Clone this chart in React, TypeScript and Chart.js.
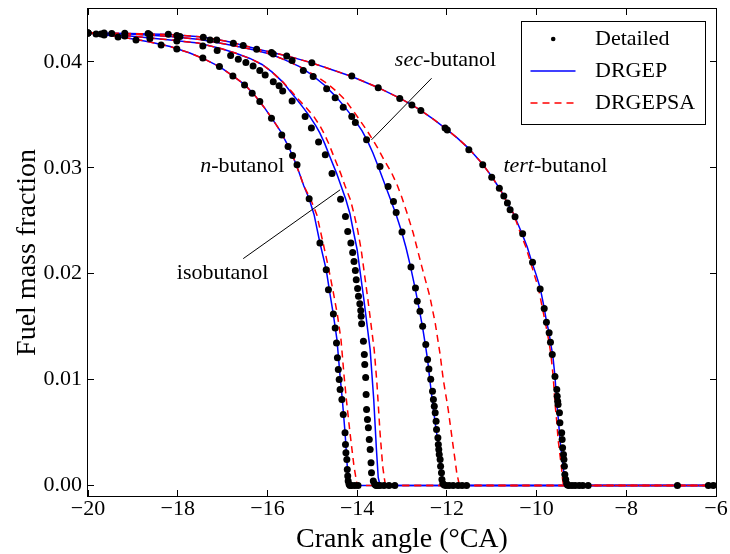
import React, { useEffect, useRef } from 'react';
import { Chart, registerables } from 'chart.js';

Chart.register(...registerables);

type Pt = [number, number];

const FONT = '"Liberation Serif", "Times New Roman", serif';

// ---- axes ----
const xTicks = [-20, -18, -16, -14, -12, -10, -8, -6];
const yTicks = [0, 0.01, 0.02, 0.03, 0.04];
const xLimits = [-20, -6];
const yLimits = [-0.001, 0.045];

// ---- n-butanol ----
const nButanolDetailed: Pt[] = [
  [-20.0, 0.04274], [-19.82, 0.04264], [-19.64, 0.04255], [-19.33, 0.04236], [-18.93, 0.04208],
  [-18.37, 0.0416], [-18.02, 0.04123], [-17.44, 0.04038], [-17.07, 0.03956], [-16.77, 0.03868],
  [-16.51, 0.03783], [-16.34, 0.03705], [-16.17, 0.03626], [-15.91, 0.03469], [-15.68, 0.03311],
  [-15.54, 0.03201], [-15.44, 0.03116], [-15.34, 0.03028], [-15.07, 0.02708], [-14.83, 0.0229],
  [-14.69, 0.02038], [-14.64, 0.01849], [-14.53, 0.0162], [-14.49, 0.01488], [-14.46, 0.01346],
  [-14.44, 0.01205], [-14.42, 0.01094], [-14.4, 0.01], [-14.38, 0.00906], [-14.34, 0.00811],
  [-14.31, 0.0067], [-14.27, 0.00497], [-14.26, 0.00387], [-14.25, 0.00308], [-14.23, 0.00245],
  [-14.22, 0.00151], [-14.21, 0.00088], [-14.2, 0.00041], [-14.18, 0.0001], [-14.16, 0],
  [-14.12, 0], [-14.05, 0], [-13.98, 0],
];
const nButanolDRGEP: Pt[] = [
  [-20.0, 0.04274], [-19.51, 0.0425], [-19.06, 0.04222], [-18.62, 0.04189], [-18.17, 0.04146],
  [-17.73, 0.04085], [-17.39, 0.04024], [-17.06, 0.03953], [-16.77, 0.03868], [-16.5, 0.03783],
  [-16.28, 0.03684], [-16.08, 0.03575], [-15.9, 0.03467], [-15.7, 0.0334], [-15.54, 0.03208],
  [-15.41, 0.03085], [-15.3, 0.02962], [-15.19, 0.0283], [-15.07, 0.02708], [-14.96, 0.02557],
  [-14.83, 0.02292], [-14.69, 0.02038], [-14.61, 0.01821], [-14.53, 0.01613], [-14.45, 0.01377],
  [-14.38, 0.01028], [-14.33, 0.00811], [-14.27, 0.005], [-14.22, 0.00179], [-14.17, 0.00028],
  [-14.13, 0], [-6, 0],
];
const nButanolDRGEPSA: Pt[] = [
  [-20.0, 0.04274], [-19.51, 0.0425], [-19.06, 0.04222], [-18.62, 0.04189], [-18.17, 0.04146],
  [-17.73, 0.04085], [-17.39, 0.04024], [-17.06, 0.03953], [-16.77, 0.03868], [-16.5, 0.03783],
  [-16.28, 0.03684], [-16.08, 0.03575], [-15.9, 0.03467], [-15.7, 0.0334], [-15.54, 0.03208],
  [-15.41, 0.03085], [-15.3, 0.02962], [-15.19, 0.0283], [-15.04, 0.02708], [-14.9, 0.02557],
  [-14.76, 0.02292], [-14.63, 0.02038], [-14.53, 0.01821], [-14.44, 0.01613], [-14.36, 0.01377],
  [-14.29, 0.01028], [-14.24, 0.00811], [-14.16, 0.005], [-14.07, 0.00179], [-14.01, 0.00028],
  [-13.98, 0], [-6, 0],
];

// ---- isobutanol ----
const isobutanolDetailed: Pt[] = [
  [-20.0, 0.04274], [-19.71, 0.04264], [-19.18, 0.04245], [-18.62, 0.04222], [-18.02, 0.04198],
  [-17.44, 0.04151], [-17.12, 0.04107], [-16.82, 0.04061], [-16.65, 0.04026], [-16.48, 0.03995],
  [-16.32, 0.03962], [-16.17, 0.0392], [-16.05, 0.03877], [-15.87, 0.03814], [-15.74, 0.03774],
  [-15.66, 0.03726], [-15.45, 0.03632], [-15.16, 0.03484], [-15.02, 0.03375], [-14.86, 0.03243],
  [-14.71, 0.03123], [-14.56, 0.02946], [-14.37, 0.02703], [-14.26, 0.02541], [-14.21, 0.02399],
  [-14.14, 0.0229], [-14.1, 0.02201], [-14.07, 0.02116], [-14.04, 0.02031], [-14.02, 0.01943],
  [-13.99, 0.01861], [-13.97, 0.01786], [-13.94, 0.01717], [-13.92, 0.01651], [-13.91, 0.01597],
  [-13.9, 0.01528], [-13.86, 0.01361], [-13.84, 0.01236], [-13.83, 0.01142], [-13.81, 0.01019],
  [-13.8, 0.00858], [-13.79, 0.00717], [-13.77, 0.00623], [-13.75, 0.00544], [-13.73, 0.00434],
  [-13.71, 0.0034], [-13.69, 0.00214], [-13.68, 0.0012], [-13.64, 0.00041], [-13.61, 0.00014],
  [-13.59, 0.00005], [-13.57, 0], [-13.54, 0], [-13.49, 0], [-13.4, 0], [-13.29, 0], [-13.16, 0],
];
const isobutanolDRGEP: Pt[] = [
  [-20.0, 0.04274], [-19.4, 0.04259], [-18.84, 0.04236], [-18.17, 0.04208], [-17.55, 0.04179],
  [-17.04, 0.04127], [-16.72, 0.04085], [-16.39, 0.04033], [-16.12, 0.03976], [-15.9, 0.03906],
  [-15.65, 0.03807], [-15.5, 0.03726], [-15.34, 0.03642], [-15.19, 0.03561], [-15.05, 0.03481],
  [-14.92, 0.03396], [-14.83, 0.03327], [-14.72, 0.03226], [-14.61, 0.03107], [-14.46, 0.0295],
  [-14.36, 0.0283], [-14.25, 0.02698], [-14.16, 0.02566], [-14.09, 0.02415], [-14.0, 0.02226],
  [-13.94, 0.02038], [-13.85, 0.01755], [-13.78, 0.01519], [-13.71, 0.01283], [-13.63, 0.00811],
  [-13.57, 0.0034], [-13.53, 0.00075], [-13.49, 0], [-6, 0],
];
const isobutanolDRGEPSA: Pt[] = [
  [-20.0, 0.04274], [-19.4, 0.04259], [-18.84, 0.04236], [-18.17, 0.04208], [-17.55, 0.04179],
  [-17.04, 0.04127], [-16.72, 0.04085], [-16.39, 0.04033], [-16.12, 0.03976], [-15.9, 0.03906],
  [-15.65, 0.03807], [-15.47, 0.03726], [-15.3, 0.03642], [-15.12, 0.03561], [-14.96, 0.03481],
  [-14.83, 0.03396], [-14.74, 0.03327], [-14.63, 0.03226], [-14.52, 0.03107], [-14.37, 0.0295],
  [-14.27, 0.0283], [-14.15, 0.02698], [-14.07, 0.02566], [-13.99, 0.02415], [-13.91, 0.02226],
  [-13.85, 0.02038], [-13.76, 0.01755], [-13.69, 0.01519], [-13.62, 0.01283], [-13.56, 0.00972],
  [-13.49, 0.005], [-13.43, 0.00179], [-13.38, 0.00028], [-13.36, 0], [-6, 0],
];

// ---- sec-butanol ----
const secButanolDetailed: Pt[] = [
  [-20.0, 0.04274], [-19.47, 0.04269], [-18.62, 0.04257], [-17.95, 0.04241], [-17.28, 0.04208],
  [-16.54, 0.04156], [-15.87, 0.04075], [-15.45, 0.04014], [-15.2, 0.0392], [-14.98, 0.03863],
  [-14.68, 0.03747], [-14.49, 0.03662], [-14.31, 0.03573], [-14.12, 0.03484], [-14.04, 0.03427],
  [-13.79, 0.03264], [-13.49, 0.03012], [-13.31, 0.02824], [-13.19, 0.02682], [-13.13, 0.02578],
  [-13.0, 0.02394], [-12.8, 0.02063], [-12.7, 0.01865], [-12.66, 0.01739], [-12.6, 0.01644],
  [-12.54, 0.01503], [-12.47, 0.0133], [-12.43, 0.01189], [-12.4, 0.01099], [-12.36, 0.01003],
  [-12.32, 0.0089], [-12.3, 0.00811], [-12.28, 0.00748], [-12.26, 0.00686], [-12.24, 0.00607],
  [-12.23, 0.00528], [-12.2, 0.0045], [-12.19, 0.00387], [-12.18, 0.0034], [-12.17, 0.00292],
  [-12.15, 0.00245], [-12.14, 0.00182], [-12.12, 0.0012], [-12.11, 0.00057], [-12.09, 0.00019],
  [-12.06, 0.00005], [-12.02, 0], [-11.95, 0], [-11.86, 0], [-11.75, 0], [-11.66, 0], [-11.56, 0],
];
const secButanolDRGEP: Pt[] = [
  [-20.0, 0.04274], [-19.06, 0.04264], [-18.17, 0.04241], [-17.5, 0.04212], [-16.83, 0.0416],
  [-16.39, 0.04123], [-15.94, 0.04075], [-15.61, 0.04019], [-15.27, 0.03953], [-15.01, 0.03877],
  [-14.72, 0.03778], [-14.47, 0.0367], [-14.27, 0.03571], [-14.07, 0.03462], [-13.89, 0.03349],
  [-13.76, 0.03245], [-13.65, 0.03142], [-13.53, 0.03012], [-13.42, 0.02887], [-13.27, 0.02717],
  [-13.13, 0.02557], [-13.01, 0.02399], [-12.91, 0.02245], [-12.82, 0.02085], [-12.71, 0.01868],
  [-12.61, 0.01651], [-12.54, 0.01491], [-12.48, 0.0133], [-12.43, 0.01189], [-12.38, 0.01],
  [-12.3, 0.00717], [-12.24, 0.00528], [-12.19, 0.00387], [-12.14, 0.00217], [-12.11, 0.00094],
  [-12.08, 0], [-6, 0],
];
const secButanolDRGEPSA: Pt[] = [
  [-20.0, 0.04274], [-19.06, 0.04264], [-18.17, 0.04241], [-17.5, 0.04212], [-16.83, 0.0416],
  [-16.39, 0.04123], [-15.94, 0.04075], [-15.61, 0.04019], [-15.27, 0.03953], [-14.94, 0.03873],
  [-14.67, 0.03797], [-14.47, 0.03726], [-14.27, 0.03642], [-14.05, 0.03516], [-13.79, 0.03358],
  [-13.56, 0.03201], [-13.4, 0.03075], [-13.23, 0.0295], [-13.11, 0.0284], [-13.01, 0.02729],
  [-12.89, 0.02575], [-12.75, 0.02384], [-12.56, 0.02069], [-12.38, 0.01786], [-12.26, 0.01535],
  [-12.15, 0.01236], [-12.08, 0.01], [-11.97, 0.00717], [-11.91, 0.00528], [-11.86, 0.00371],
  [-11.81, 0.00217], [-11.78, 0.0012], [-11.72, 0], [-6, 0],
];

// ---- tert-butanol ----
const tertButanolDetailed: Pt[] = [
  [-20.0, 0.04274], [-19.64, 0.04274], [-19.18, 0.04271], [-18.66, 0.04269], [-18.21, 0.04261],
  [-18.02, 0.0425], [-17.43, 0.04233], [-17.13, 0.04208], [-16.76, 0.04176], [-16.24, 0.0412],
  [-15.91, 0.04088], [-15.57, 0.04057], [-15.01, 0.03993], [-14.12, 0.03868], [-13.53, 0.03757],
  [-13.05, 0.03655], [-12.78, 0.03594], [-12.58, 0.03541], [-12.04, 0.03375], [-11.99, 0.03358],
  [-11.51, 0.0317], [-11.2, 0.03028], [-11.0, 0.0291], [-10.83, 0.02808], [-10.73, 0.02734],
  [-10.65, 0.02667], [-10.59, 0.02604], [-10.48, 0.02538], [-10.31, 0.02377], [-10.09, 0.02107],
  [-9.92, 0.01856], [-9.83, 0.0167], [-9.78, 0.01541], [-9.72, 0.01441], [-9.69, 0.01352],
  [-9.65, 0.01236], [-9.59, 0.01028], [-9.55, 0.00906], [-9.54, 0.00842], [-9.53, 0.00795],
  [-9.52, 0.00764], [-9.49, 0.00686], [-9.48, 0.00592], [-9.44, 0.00497], [-9.43, 0.00434],
  [-9.42, 0.00356], [-9.4, 0.00292], [-9.39, 0.00245], [-9.38, 0.00182], [-9.37, 0.00104],
  [-9.35, 0.00057], [-9.33, 0.00019], [-9.31, 0.00005], [-9.28, 0], [-9.21, 0], [-9.14, 0],
  [-9.05, 0], [-8.97, 0], [-8.85, 0], [-6.86, 0], [-6.17, 0], [-6.06, 0],
];
const tertButanolDRGEP: Pt[] = [
  [-20.0, 0.04274], [-19.06, 0.04269], [-18.17, 0.04258], [-17.44, 0.04236], [-16.83, 0.04189],
  [-16.23, 0.04123], [-15.9, 0.0409], [-15.56, 0.04057], [-15.01, 0.03991], [-14.61, 0.03934],
  [-14.12, 0.03863], [-13.54, 0.03759], [-13.05, 0.03658], [-12.78, 0.03594], [-12.6, 0.03547],
  [-12.31, 0.03462], [-12.04, 0.03375], [-11.77, 0.03283], [-11.52, 0.03186], [-11.22, 0.03044],
  [-11.0, 0.02918], [-10.88, 0.0284], [-10.74, 0.02745], [-10.66, 0.0267], [-10.52, 0.02573],
  [-10.33, 0.02384], [-10.21, 0.02255], [-10.11, 0.02116], [-10.01, 0.01991], [-9.92, 0.01865],
  [-9.83, 0.01676], [-9.78, 0.0155], [-9.72, 0.01441], [-9.69, 0.01346], [-9.64, 0.01236],
  [-9.59, 0.01031], [-9.55, 0.0078], [-9.51, 0.00604], [-9.48, 0.00434], [-9.44, 0.00292],
  [-9.4, 0.00151], [-9.38, 0.00057], [-9.37, 0], [-6, 0],
];
const tertButanolDRGEPSA: Pt[] = [
  [-20.0, 0.04274], [-19.06, 0.04269], [-18.17, 0.04258], [-17.44, 0.04236], [-16.83, 0.04189],
  [-16.23, 0.04123], [-15.9, 0.0409], [-15.56, 0.04057], [-15.01, 0.03991], [-14.61, 0.03934],
  [-14.12, 0.03863], [-13.54, 0.03759], [-13.05, 0.03658], [-12.78, 0.03594], [-12.6, 0.03547],
  [-12.31, 0.03462], [-12.04, 0.03375], [-11.77, 0.03283], [-11.52, 0.03186], [-11.22, 0.03044],
  [-11.0, 0.02918], [-10.88, 0.0284], [-10.74, 0.02745], [-10.66, 0.0267], [-10.52, 0.02573],
  [-10.36, 0.02384], [-10.24, 0.02255], [-10.14, 0.02116], [-10.05, 0.01991], [-9.96, 0.01865],
  [-9.87, 0.01676], [-9.81, 0.0155], [-9.76, 0.01441], [-9.72, 0.01346], [-9.68, 0.01236],
  [-9.63, 0.01031], [-9.59, 0.0078], [-9.55, 0.00604], [-9.52, 0.00434], [-9.48, 0.00292],
  [-9.44, 0.00151], [-9.42, 0.00057], [-9.4, 0], [-6, 0],
];

// ---- series & labels ----
const seriesNames = ['Detailed', 'DRGEP', 'DRGEPSA'];
const fuels = [
  { name: 'n-butanol', detailed: nButanolDetailed, drgep: nButanolDRGEP, drgepsa: nButanolDRGEPSA },
  { name: 'isobutanol', detailed: isobutanolDetailed, drgep: isobutanolDRGEP, drgepsa: isobutanolDRGEPSA },
  { name: 'sec-butanol', detailed: secButanolDetailed, drgep: secButanolDRGEP, drgepsa: secButanolDRGEPSA },
  { name: 'tert-butanol', detailed: tertButanolDetailed, drgep: tertButanolDRGEP, drgepsa: tertButanolDRGEPSA },
];

// label text runs: [text, italic]
const labelRuns: [string, boolean][][] = [
  [['n', true], ['-butanol', false]],
  [['isobutanol', false]],
  [['sec', true], ['-butanol', false]],
  [['tert', true], ['-butanol', false]],
];
// anchor (left, baseline) in data coordinates
const labelAnchors: Pt[] = [
  [-17.5, 0.02962],
  [-18.02, 0.01953],
  [-13.16, 0.03958],
  [-10.74, 0.02958],
];
// leader lines in data coordinates
const leaderLines: [Pt, Pt][] = [
  [[-16.54, 0.02142], [-14.38, 0.02792]],
  [[-12.34, 0.03846], [-13.68, 0.03264]],
];

const fmtX = (v: number) => (v < 0 ? '\u2212' + String(Math.abs(v)) : String(v));

const overlayPlugin = {
  id: 'overlay',
  afterDatasetsDraw(chart: any) {
    const { ctx, chartArea: ca, scales } = chart;
    const xs = scales.x;
    const ys = scales.y;
    ctx.save();
    // leader lines
    ctx.strokeStyle = '#000';
    ctx.lineWidth = 1;
    leaderLines.forEach(([a, b]) => {
      ctx.beginPath();
      ctx.moveTo(xs.getPixelForValue(a[0]), ys.getPixelForValue(a[1]));
      ctx.lineTo(xs.getPixelForValue(b[0]), ys.getPixelForValue(b[1]));
      ctx.stroke();
    });
    // fuel labels
    ctx.fillStyle = '#000';
    ctx.textAlign = 'left';
    ctx.textBaseline = 'alphabetic';
    labelRuns.forEach((runs, i) => {
      let x = xs.getPixelForValue(labelAnchors[i][0]);
      const y = ys.getPixelForValue(labelAnchors[i][1]);
      runs.forEach(([t, it]) => {
        ctx.font = `${it ? 'italic ' : ''}22px ${FONT}`;
        ctx.fillText(t, x, y);
        x += ctx.measureText(t).width;
      });
    });
    // frame
    ctx.strokeStyle = '#000';
    ctx.lineWidth = 1;
    ctx.strokeRect(ca.left - 0.5, ca.top - 0.5, ca.right - ca.left + 1, ca.bottom - ca.top + 1);
    // inward ticks on all four sides
    const tl = 6;
    ctx.beginPath();
    xTicks.forEach((v) => {
      const p = Math.floor(xs.getPixelForValue(v)) + 0.5;
      ctx.moveTo(p, ca.bottom);
      ctx.lineTo(p, ca.bottom - tl);
      ctx.moveTo(p, ca.top);
      ctx.lineTo(p, ca.top + tl);
    });
    yTicks.forEach((v) => {
      const p = Math.floor(ys.getPixelForValue(v)) + 0.5;
      ctx.moveTo(ca.left, p);
      ctx.lineTo(ca.left + tl, p);
      ctx.moveTo(ca.right, p);
      ctx.lineTo(ca.right - tl, p);
    });
    ctx.stroke();

    // legend
    const w = 184;
    const h = 103;
    const lx = Math.round(ca.right - 11 - w) + 0.5;
    const ly = Math.round(ca.top + 12) + 0.5;
    ctx.fillStyle = '#fff';
    ctx.fillRect(lx, ly, w, h);
    ctx.strokeStyle = '#000';
    ctx.lineWidth = 1;
    ctx.strokeRect(lx, ly, w, h);
    const ds = chart.data.datasets;
    seriesNames.forEach((name, i) => {
      const d = ds[i];
      const cy = ly + 17.5 + 32 * i;
      if (!d.showLine) {
        ctx.fillStyle = d.pointBackgroundColor;
        ctx.beginPath();
        ctx.arc(lx + 31.7, cy, 2.3, 0, Math.PI * 2);
        ctx.fill();
      } else {
        ctx.strokeStyle = d.borderColor;
        ctx.lineWidth = d.borderWidth;
        ctx.setLineDash(d.borderDash || []);
        ctx.beginPath();
        ctx.moveTo(lx + 9, cy);
        ctx.lineTo(lx + 54, cy);
        ctx.stroke();
        ctx.setLineDash([]);
      }
      ctx.fillStyle = '#000';
      ctx.font = `22px ${FONT}`;
      ctx.textBaseline = 'middle';
      ctx.fillText(name, lx + 73.5, cy);
    });
    ctx.restore();
  },
};

export default function App() {
  const ref = useRef<HTMLCanvasElement | null>(null);

  useEffect(() => {
    if (!ref.current) return;
    const toXY = (arr: Pt[]) => arr.map(([x, y]) => ({ x, y }));
    const datasets: any[] = [];
    const styleDetailed = {
      showLine: false, pointRadius: 3.5, pointHoverRadius: 3.5, pointBackgroundColor: '#000000',
      pointBorderWidth: 0, pointBorderColor: '#000000', order: 0, clip: 0,
    };
    const styleDRGEP = {
      showLine: true, borderColor: '#0000ff', borderWidth: 1.5, pointRadius: 0, pointHoverRadius: 0,
      tension: 0, order: 2, clip: 0,
    };
    const styleDRGEPSA = {
      showLine: true, borderColor: '#ff0000', borderWidth: 1.5, borderDash: [7, 5], pointRadius: 0,
      pointHoverRadius: 0, tension: 0, order: 1, clip: 0,
    };
    fuels.forEach((f) => {
      datasets.push({ label: `${seriesNames[0]} ${f.name}`, data: toXY(f.detailed), ...styleDetailed });
      datasets.push({ label: `${seriesNames[1]} ${f.name}`, data: toXY(f.drgep), ...styleDRGEP });
      datasets.push({ label: `${seriesNames[2]} ${f.name}`, data: toXY(f.drgepsa), ...styleDRGEPSA });
    });

    const chart = new Chart(ref.current, {
      type: 'scatter',
      data: { datasets },
      options: {
        responsive: false,
        animation: false,
        events: [],
        layout: { padding: { top: 9, right: 14, left: 0, bottom: 0 } },
        plugins: { legend: { display: false }, tooltip: { enabled: false } },
        scales: {
          x: {
            type: 'linear',
            min: xLimits[0],
            max: xLimits[1],
            afterBuildTicks: (s: any) => {
              s.ticks = xTicks.map((v) => ({ value: v }));
            },
            afterFit: (s: any) => {
              s.height = 58;
              s.paddingLeft = 0;
              s.paddingRight = 0;
            },
            grid: { display: false, drawTicks: false },
            border: { display: false },
            ticks: {
              padding: 0,
              color: '#000',
              autoSkip: false,
              maxRotation: 0,
              font: { family: FONT, size: 22 },
              callback: (v: any) => fmtX(Number(v)),
            },
            title: {
              display: true,
              text: 'Crank angle (\u00B0CA)',
              color: '#000',
              font: { family: FONT, size: 28, lineHeight: 1 },
              padding: 0,
            },
          },
          y: {
            type: 'linear',
            min: yLimits[0],
            max: yLimits[1],
            afterBuildTicks: (s: any) => {
              s.ticks = yTicks.map((v) => ({ value: v }));
            },
            afterFit: (s: any) => {
              s.width = 88;
              s.paddingTop = 0;
              s.paddingBottom = 0;
            },
            grid: { display: false, drawTicks: false },
            border: { display: false },
            ticks: {
              padding: 6,
              color: '#000',
              autoSkip: false,
              font: { family: FONT, size: 22 },
              callback: (v: any) => Number(v).toFixed(2),
            },
            title: {
              display: true,
              text: 'Fuel mass fraction',
              color: '#000',
              font: { family: FONT, size: 28, lineHeight: 1 },
              padding: { top: 13.5, bottom: 0 },
            },
          },
        },
      } as any,
      plugins: [overlayPlugin],
    });
    return () => chart.destroy();
  }, []);

  return (
    <div style={{ position: 'absolute', left: 0, top: 0, width: 730, height: 554, background: '#fff' }}>
      <canvas ref={ref} width={730} height={554} style={{ display: 'block' }} />
    </div>
  );
}
